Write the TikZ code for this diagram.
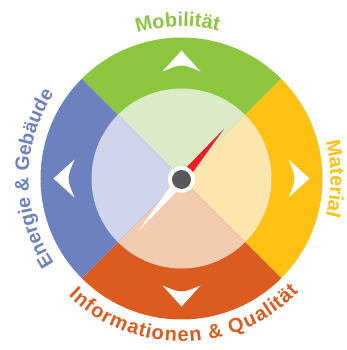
\documentclass[tikz,border=0pt]{standalone}
\usepackage{fontspec}
\setmainfont{Liberation Sans}
\usepackage{xcolor}
\usetikzlibrary{decorations.text}

\definecolor{mobgreen}{HTML}{8CC63F}
\definecolor{mobgreenl}{HTML}{DCEBC7}
\definecolor{matyellow}{HTML}{FDC113}
\definecolor{matyellowl}{HTML}{FDE5AE}
\definecolor{infoorange}{HTML}{DC5B1E}
\definecolor{infoorangel}{HTML}{F3CBAF}
\definecolor{enblue}{HTML}{6C81BE}
\definecolor{enbluel}{HTML}{D1D5EB}
\definecolor{needlered}{HTML}{ED1C24}
\definecolor{hubgray}{HTML}{58595B}

\newcommand{\labelfont}{\fontsize{20}{20}\selectfont\bfseries}

\begin{document}
\begin{tikzpicture}[x=1pt,y=1pt]
  % Kompass mit vier Handlungsfeldern
  \useasboundingbox (-181.5,-171.5) rectangle (165.5,178.5);
  \foreach \a/\c/\cl in {45/mobgreen/mobgreenl, -45/matyellow/matyellowl, 225/infoorange/infoorangel, 135/enblue/enbluel} {
    \fill[\c] (0,0) -- (\a:141) arc[start angle=\a, delta angle=90, radius=141] -- cycle;
    \fill[\cl] (0,0) -- (\a:90) arc[start angle=\a, delta angle=90, radius=90] -- cycle;
  }
  % Pfeile im Ring
  \foreach \a in {0,90,180,270}
    \fill[white, rotate=\a] (128,0) -- (107,19) .. controls (115,0) .. (107,-19) -- cycle;
  % Nadel
  \begin{scope}[shift={(0,-1)}, rotate=50]
    \fill[needlered] (0,5) -- (66,0) -- (0,-5) -- cycle;
    \fill[white] (0,5) -- (-66,0) -- (0,-5) -- cycle;
    \fill[white] (0,0) circle (13.5);
    \fill[hubgray] (0,0) circle (9.5);
  \end{scope}
  % Beschriftung
  \path[decorate, decoration={text along path, text align=center,
      text={|\labelfont\color{mobgreen}|Mobilität}}]
    (121.5:152) arc[start angle=121.5, end angle=61.5, radius=152];
  \path[decorate, decoration={text along path, text align=center,
      text={|\labelfont\color{matyellow}|Material}}]
    (40:149) arc[start angle=40, end angle=-40, radius=149];
  \path[decorate, decoration={text along path, text align=center,
      text={|\fontsize{19.5}{20}\selectfont\bfseries\color{enblue}|Energie {\&} Gebäude}}]
    (240:153) arc[start angle=240, end angle=120, radius=153];
  \path[decorate, decoration={text effects along path,
      text={Informationen {\&} Qualität},
      text effects/.cd, text along path, fit text to path,
      characters={text=infoorange, font=\labelfont, anchor=base}}]
    (226:163) arc[start angle=226, end angle=316, radius=163];
\end{tikzpicture}
\end{document}
